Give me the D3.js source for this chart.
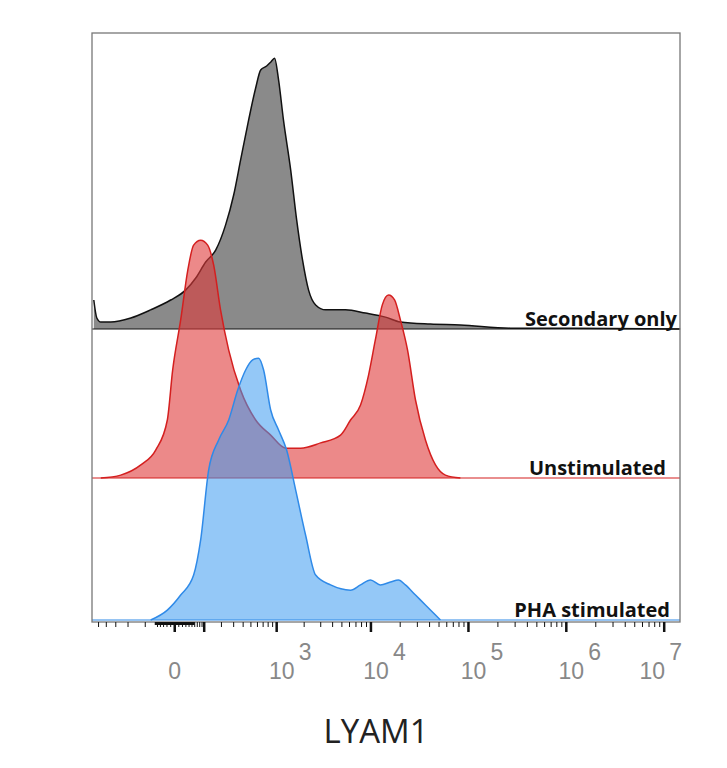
<!DOCTYPE html>
<html><head><meta charset="utf-8">
<script src="https://cdn.jsdelivr.net/npm/d3@7"></script>
<style>body{margin:0;background:#fff}</style>
</head><body>
<script>
// channel values (LYAM1 fluorescence) and relative counts per sample
var grayX = [-571,-525,-469,-350,-181,-76,-10,29,64,107,162,231,300,371,469,571,655,769,855,947,1050,1190,1430,1660,1920,2230,2650,3380,5460,8790,14100,20100,40800,82700,268000,869000,14560000];
var grayY = [10,3.8,2.4,2.4,3.8,6.6,10,13.4,17.6,23.1,27.2,35.9,46.2,58.3,72.1,83.1,89.3,90.7,92,93.4,85.9,72.1,54.8,37.6,23.8,13.4,8.3,6.6,6.6,5.5,4.1,2.4,1.7,1.4,0.3,0.3,0];
var redX = [-469,-256,-122,-56,-19,-5,15,36,56,84,117,150,194,256,371,571,855,1260,1830,2990,4840,6150,7810,9450,11100,13100,15200,17500,20100,23800,28700,36300,46000,58100,82700];
var redY = [0,1,4.5,9.7,20,37.2,54.5,71.7,80.3,82,80.3,73.4,57.9,44.1,30.3,20,14.8,10.3,10.3,12.1,14.8,20,25.2,35.5,47.6,59.7,63.1,61.4,54.5,44.1,26.9,13.1,4.5,1,0];
var blueX = [-76,-19,15,56,84,122,181,256,340,430,525,619,709,855,1050,1290,1620,2070,2650,3810,6150,7810,9900,12500,15900,19200,22600,28700,36300,46000,51700];
var blueY = [0,3.4,8.6,15.5,27.6,51.7,62.1,69,79.3,86.2,89.7,90.3,86.2,72.4,65.5,58.6,44.8,29.3,15.5,12.1,10.3,12.1,13.8,12.1,13.1,13.8,12.1,8.6,5.2,1.7,0];
var samples = ["Secondary only", "Unstimulated", "PHA stimulated"];
var tickExp = [3,4,5,6,7];

var W = 727, H = 768, L = 92, R = 680, T = 33, B = 622;
var svg = d3.select('body').append('svg').attr('width', W).attr('height', H);

var x = d3.scaleSymlog().constant(100).domain([-600, 1.45e7]).range([L, R]);
var yh = d3.scaleLinear().domain([0, 100]).range([0, 290]);

var panels = [
    {xs: grayX, ys: grayY, base: 329, fill: '#8a8a8a', fo: 1, stroke: '#111', label: samples[0], lx: 677},
    {xs: redX, ys: redY, base: 478, fill: '#e03a3a', fo: 0.6, stroke: '#d41f1f', label: samples[1], lx: 666},
    {xs: blueX, ys: blueY, base: 620, fill: '#3d9bf0', fo: 0.55, stroke: '#2f8ae8', label: samples[2], lx: 670}
];

panels.forEach(function(p) {
    var pts = p.xs.map(function(v, i) { return [v, p.ys[i]]; });
    var area = d3.area().curve(d3.curveMonotoneX)
        .x(function(d) { return x(d[0]); })
        .y0(p.base)
        .y1(function(d) { return p.base - yh(d[1]); });
    var line = d3.line().curve(d3.curveMonotoneX)
        .x(function(d) { return x(d[0]); })
        .y(function(d) { return p.base - yh(d[1]); });
    svg.append('path').attr('d', area(pts)).attr('fill', p.fill).attr('fill-opacity', p.fo);
    svg.append('line').attr('x1', L).attr('x2', R).attr('y1', p.base).attr('y2', p.base)
        .attr('stroke', p.stroke).attr('stroke-width', 1.2);
    svg.append('path').attr('d', line(pts)).attr('fill', 'none')
        .attr('stroke', p.stroke).attr('stroke-width', 1.5);
    svg.append('text').attr('x', p.lx).attr('y', p.base - 3).attr('text-anchor', 'end')
        .attr('font-family', 'Open Sans').attr('font-weight', 'bold').attr('font-size', 20)
        .attr('fill', '#111').text(p.label);
});

// frame
svg.append('rect').attr('x', L).attr('y', T).attr('width', R - L).attr('height', B - T)
    .attr('fill', 'none').attr('stroke', '#777').attr('stroke-width', 1.3);

// ticks
var minor = [-500,-400,-300,-200,-100,-50,-40,-30,-20,-10,10,20,30,40,50,60,70,80,90];
var major = [0];
for (var e = 2; e <= 7; e++) {
    major.push(Math.pow(10, e));
    if (e < 7) for (var m = 2; m < 10; m++) minor.push(m * Math.pow(10, e));
}
svg.append('g').selectAll('line').data(minor).join('line')
    .attr('x1', function(d) { return x(d); }).attr('x2', function(d) { return x(d); })
    .attr('y1', B).attr('y2', B + 5).attr('stroke', '#111').attr('stroke-width', 1);
svg.append('g').selectAll('line').data(major).join('line')
    .attr('x1', function(d) { return x(d); }).attr('x2', function(d) { return x(d); })
    .attr('y1', B).attr('y2', B + 10).attr('stroke', '#111').attr('stroke-width', 2.5);
svg.append('rect').attr('x', x(-60)).attr('width', x(60) - x(-60)).attr('y', B).attr('height', 3).attr('fill', '#111');

// tick labels
var lab = svg.append('g').attr('font-family', 'Liberation Sans').attr('fill', '#888').attr('font-size', 23);
lab.append('text').attr('x', x(0)).attr('y', 679).attr('text-anchor', 'middle').text('0');
tickExp.forEach(function(e) {
    var cx = x(Math.pow(10, e)) + (e === 7 ? -12 : 5);
    lab.append('text').attr('x', cx).attr('y', 679).attr('text-anchor', 'middle').text('10');
    lab.append('text').attr('x', cx + 17).attr('y', 660).attr('text-anchor', 'start').text(e);
});

svg.append('text').attr('x', 376).attr('y', 743).attr('text-anchor', 'middle')
    .attr('font-family', 'Open Sans').attr('font-size', 33).attr('fill', '#222').text('LYAM1');
</script>
</body></html>
